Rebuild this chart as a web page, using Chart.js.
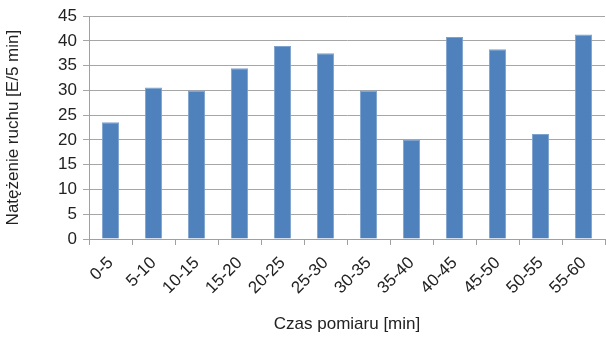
<!DOCTYPE html>
<html lang="pl">
<head>
  <meta charset="UTF-8" />
  <title>Natężenie ruchu</title>
  <script src="https://cdn.jsdelivr.net/npm/chart.js"></script>
  <style>
    body { margin: 0; background: #fff; }
    #wrap { width: 606px; height: 337px; }
  </style>
</head>
<body>
  <div id="wrap"><canvas id="chart" width="606" height="337"></canvas></div>
  <script>
    // Dane
    const categories = ['0-5', '5-10', '10-15', '15-20', '20-25', '25-30', '30-35', '35-40', '40-45', '45-50', '50-55', '55-60'];
    const values = [23.6, 30.6, 30, 34.5, 39, 37.5, 30, 20, 40.8, 38.3, 21.2, 41.3];
    const yTicks = [0, 5, 10, 15, 20, 25, 30, 35, 40, 45];

    const font = "'Liberation Sans Narrow', 'Liberation Sans', Arial, sans-serif";

    const ctx = document.getElementById('chart').getContext('2d');
    new Chart(ctx, {
      type: 'bar',
      data: {
        labels: categories,
        datasets: [{
          data: values,
          backgroundColor: '#4F81BD',
          borderColor: '#7EA2CE',
          borderWidth: 1,
          categoryPercentage: 1,
          barPercentage: 0.4
        }]
      },
      options: {
        responsive: false,
        animation: false,
        layout: { padding: { top: 6, right: 1, left: 0, bottom: 2 } },
        plugins: { legend: { display: false }, tooltip: { enabled: false } },
        scales: {
          x: {
            offset: true,
            afterFit: (scale) => { scale.height = 96; },
            grid: { drawOnChartArea: false, drawTicks: true, tickLength: 6, color: '#A0A0A0', offset: true },
            border: { color: '#A0A0A0' },
            ticks: { maxRotation: 45, minRotation: 45, color: '#222', font: { family: font, size: 17 }, padding: 8 },
            title: { display: true, text: 'Czas pomiaru [min]', color: '#222', font: { family: font, size: 17 }, padding: { top: 0, bottom: 0 } }
          },
          y: {
            min: 0,
            max: 45,
            afterFit: (scale) => { scale.width = 89; },
            afterBuildTicks: (scale) => { scale.ticks = yTicks.map(v => ({ value: v })); },
            grid: { color: '#A6A6A6', tickLength: 6 },
            border: { color: '#A0A0A0' },
            ticks: { color: '#222', font: { family: font, size: 17 }, padding: 6 },
            title: { display: true, text: 'Natężenie ruchu [E/5 min]', color: '#222', font: { family: font, size: 17 }, padding: { top: 3, bottom: 4 } }
          }
        }
      }
    });
  </script>
</body>
</html>
